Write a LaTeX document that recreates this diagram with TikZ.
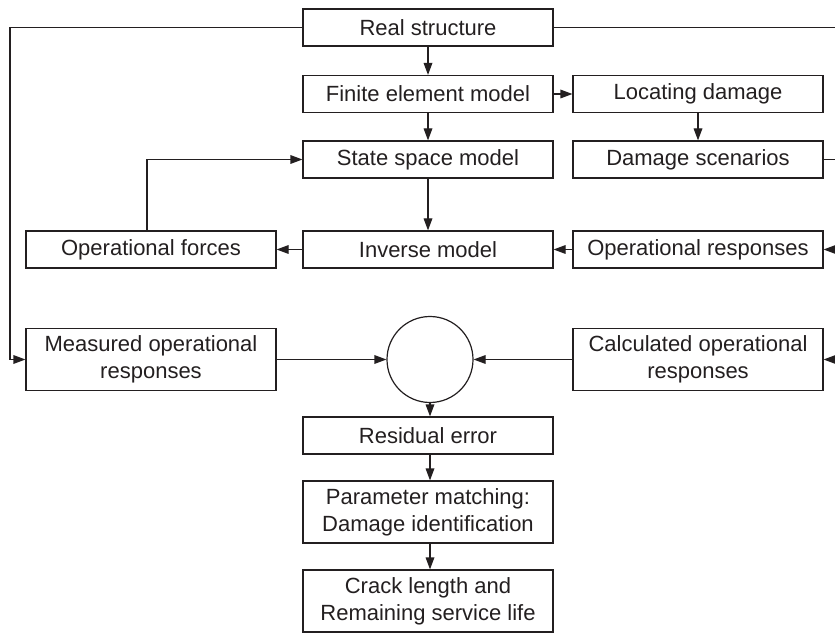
\documentclass[tikz,border=0pt]{standalone}
\usepackage{fontspec}
\setmainfont{Liberation Sans}
\usetikzlibrary{arrows.meta}

\newlength{\du}
\setlength{\du}{0.75pt}
\definecolor{dialinecolor}{rgb}{0.137255, 0.121569, 0.125490}

\tikzset{
  dbox/.style={draw=dialinecolor, line width=0.9pt, minimum width=250\du,
    minimum height=37\du, inner sep=0pt, align=center, text=dialinecolor,
    font=\fontsize{16.5}{20}\selectfont},
  dboxtwo/.style={dbox, minimum height=62\du},
  sumnode/.style={draw=dialinecolor, line width=0.9pt, circle, minimum size=86\du, inner sep=0pt},
  dline/.style={draw=dialinecolor, line width=0.9pt},
  darrow/.style={dline, -{Triangle[length=9pt,width=6.5pt]}}
}

\begin{document}
\begin{tikzpicture}
\pgftransformyscale{-1.000000}
\useasboundingbox (0\du,0\du) rectangle (835\du,634\du);
% middle column
\node[dbox] (realstruct) at (428\du,27.5\du){Real structure};
\node[dbox] (fem) at (428\du,94\du){Finite element model};
\node[dbox] (statespace) at (428\du,159.5\du){State space model};
\node[dbox] (inverse) at (428\du,249.5\du){Inverse model};
\node[sumnode] (sum) at (430\du,359.5\du){};
\node[dbox] (residual) at (428\du,435.5\du){Residual error};
\node[dboxtwo] (matching) at (428\du,512\du){Parameter matching:\\Damage identification};
\node[dboxtwo] (crack) at (428\du,601\du){Crack length and\\Remaining service life};
% right column
\node[dbox] (locdamage) at (698\du,94\du){Locating damage};
\node[dbox] (scenarios) at (698\du,159.5\du){Damage scenarios};
\node[dbox] (opresp) at (698\du,249.5\du){Operational responses};
\node[dboxtwo] (calcresp) at (698\du,359.5\du){Calculated operational\\responses};
% left column
\node[dbox] (opforces) at (151\du,249.5\du){Operational forces};
\node[dboxtwo] (measresp) at (151\du,359.5\du){Measured operational\\responses};
% free ends at the edges
\coordinate (leftturn) at (10\du,27.5\du);
\coordinate (edgetop) at (835\du,27.5\du);
\coordinate (edgescen) at (835\du,159.5\du);
\coordinate (edgeresp) at (835\du,249.5\du);
\coordinate (edgecalc) at (835\du,359.5\du);
% connectors
\draw[darrow] (realstruct) -- (fem);
\draw[darrow] (fem) -- (statespace);
\draw[darrow] (fem.east) -- (locdamage.west);
\draw[darrow] (locdamage) -- (scenarios);
\draw[darrow] (statespace) -- (inverse);
\draw[darrow] (opresp.west) -- (inverse.east);
\draw[darrow] (inverse.west) -- (opforces.east);
\draw[darrow] ([xshift=-4\du]opforces.north) |- (statespace.west);
\draw[darrow] (realstruct.west) -- (leftturn) |- (measresp.west);
\draw[dline] (realstruct.east) -- (edgetop);
\draw[dline] (scenarios.east) -- (edgescen);
\draw[darrow] (edgeresp) -- (opresp.east);
\draw[darrow] (edgecalc) -- (calcresp.east);
\draw[darrow] (measresp.east) -- (sum.west);
\draw[darrow] (calcresp.west) -- (sum.east);
\draw[darrow] (sum.south) -- (residual.north -| sum.south);
\draw[darrow] (residual.south -| sum.south) -- (matching.north -| sum.south);
\draw[darrow] (matching.south -| sum.south) -- (crack.north -| sum.south);
\end{tikzpicture}
\end{document}
